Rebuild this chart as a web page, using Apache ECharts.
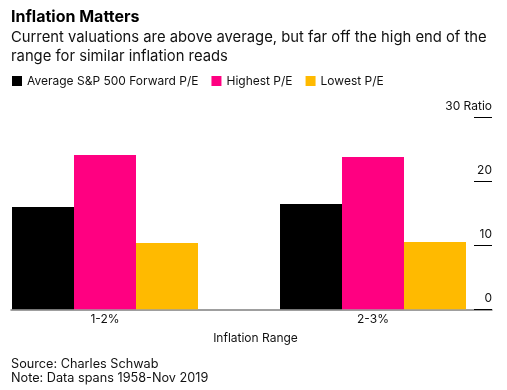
<!DOCTYPE html>
<html><head><meta charset="utf-8">
<script src="https://cdn.jsdelivr.net/npm/echarts@6/dist/echarts.min.js"></script>
<style>html,body{margin:0;padding:0;background:#fff}#c{width:507px;height:390px}</style>
</head><body><div id="c"></div>
<script>
const categories = ['1-2%', '2-3%'];
const seriesNames = ['Average S&P 500 Forward P/E', 'Highest P/E', 'Lowest P/E'];
const avgPE = [16.0, 16.45];
const highPE = [24.1, 23.8];
const lowPE = [10.35, 10.5];
const yTicks = [0, 10, 20, 30];
const yUnit = 'Ratio';
const titleText = 'Inflation Matters';
const subtitleText = 'Current valuations are above average, but far off the high end of the\nrange for similar inflation reads';
const xName = 'Inflation Range';
const footerText = 'Source: Charles Schwab\nNote: Data spans 1958-Nov 2019';
const colors = ['#000000', '#ff0081', '#ffba00'];

const FONT = 'Inter, "Liberation Sans", Arial, sans-serif';
const chart = echarts.init(document.getElementById('c'), null, {renderer: 'canvas'});
const GT = 117.3, GB = 390 - 309.3;
const option = {
  animation: false,
  textStyle: {fontFamily: FONT},
  title: [
    {text: titleText, left: 11, top: 9, padding: 0,
     textStyle: {fontSize: 16, fontWeight: 'bold', color: '#000', fontFamily: FONT}},
    {text: subtitleText, left: 11, top: 28, padding: 0,
     textStyle: {fontSize: 14.8, fontWeight: 'normal', color: '#111', lineHeight: 19, fontFamily: FONT}},
    {text: footerText, left: 11, top: 357, padding: 0,
     textStyle: {fontSize: 12.7, fontWeight: 'normal', color: '#111', lineHeight: 14, fontFamily: FONT}}
  ],
  legend: {
    left: 12, top: 75, padding: 0, icon: 'rect', itemWidth: 10, itemHeight: 10, itemGap: 13,
    textStyle: {fontSize: 12, color: '#111', fontFamily: FONT},
    data: seriesNames
  },
  grid: [
    {left: -29, right: 0, top: GT, bottom: GB, outerBoundsMode: 'none', containLabel: false},
    {left: 11, right: 15, top: GT, bottom: GB, outerBoundsMode: 'none', containLabel: false}
  ],
  xAxis: [
    {type: 'category', gridIndex: 0, data: categories,
     axisLine: {show: false}, axisTick: {show: false},
     axisLabel: {margin: 4, fontSize: 12, color: '#111', fontFamily: FONT}},
    {type: 'value', gridIndex: 1, min: 0, max: 1,
     axisLine: {show: true, onZero: false, lineStyle: {color: '#808080', width: 1.5}},
     axisTick: {show: false}, axisLabel: {show: false}, splitLine: {show: false},
     name: xName, nameLocation: 'middle', nameGap: 23,
     nameTextStyle: {fontSize: 12, color: '#111', fontFamily: FONT, padding: [0, 0, 0, 8]}}
  ],
  yAxis: [
    {type: 'value', gridIndex: 0, min: yTicks[0], max: yTicks[yTicks.length - 1], interval: 10, show: false},
    {type: 'value', gridIndex: 1, position: 'right', min: yTicks[0], max: yTicks[yTicks.length - 1], interval: 10,
     axisLine: {show: false, onZero: false},
     axisTick: {show: true, inside: true, length: 18, lineStyle: {color: '#000', width: 1}},
     splitLine: {show: false},
     axisLabel: {inside: true, margin: 0, verticalAlign: 'bottom', align: 'right',
       padding: [0, 0, 5, 0], fontSize: 12, color: '#111', fontFamily: FONT,
       formatter: v => (v === yTicks[yTicks.length - 1] ? v + ' ' + yUnit : String(v))}}
  ],
  series: [
    {name: seriesNames[0], type: 'bar', xAxisIndex: 0, yAxisIndex: 0, data: avgPE,
     itemStyle: {color: colors[0]}, barGap: '0%', barCategoryGap: '30.6%'},
    {name: seriesNames[1], type: 'bar', xAxisIndex: 0, yAxisIndex: 0, data: highPE,
     itemStyle: {color: colors[1]}, barGap: '0%', barCategoryGap: '30.6%'},
    {name: seriesNames[2], type: 'bar', xAxisIndex: 0, yAxisIndex: 0, data: lowPE,
     itemStyle: {color: colors[2]}, barGap: '0%', barCategoryGap: '30.6%'}
  ]
};
chart.setOption(option);
</script></body></html>
